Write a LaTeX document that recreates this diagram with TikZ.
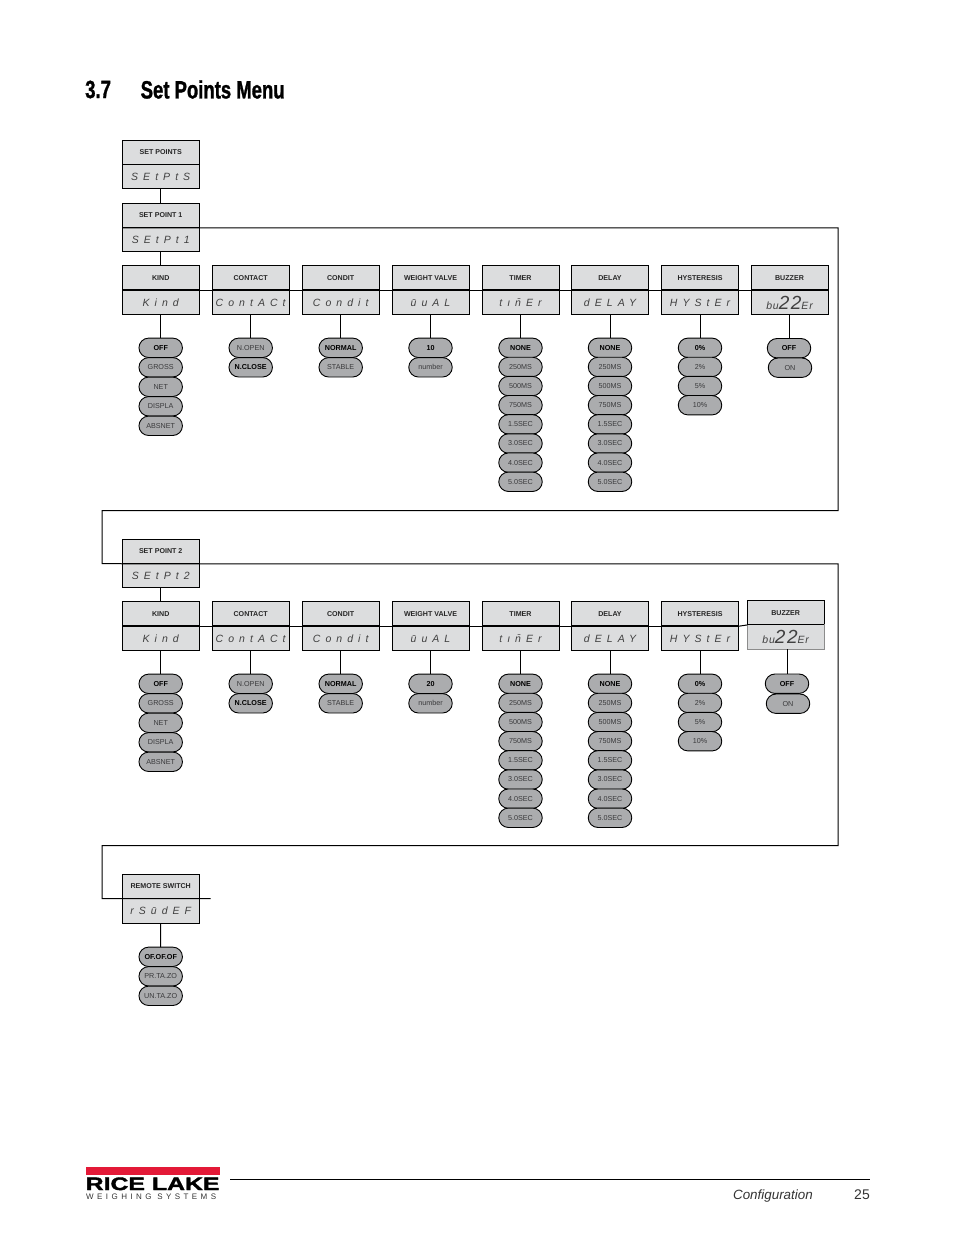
\documentclass[tikz,border=0pt]{standalone}
\usepackage{fontspec}
\setmainfont{Liberation Sans}
\newfontfamily\lcdfont[LetterSpace=48,ItalicFont={Liberation Sans Italic}]{Liberation Sans}
\newfontfamily\headfont[FakeStretch=0.74,FakeBold=1.2]{Liberation Sans Bold}
\newfontfamily\logofont[FakeStretch=1.38,FakeBold=2]{Liberation Sans Bold}
\newfontfamily\subfont[LetterSpace=43]{Liberation Sans}
\usetikzlibrary{shapes.misc}
\definecolor{boxgray}{HTML}{DCDDDE}
\definecolor{pillgray}{HTML}{ABACAE}
\definecolor{txtgray}{HTML}{3A3A3C}
\definecolor{logored}{HTML}{E31937}
\newcommand{\optb}[1]{\textcolor{black}{\textbf{#1}}}
\newcommand{\lcd}[1]{{\lcdfont\itshape #1}}
\newcommand{\lcdbuzz}{{\lcdfont\itshape\addfontfeature{LetterSpace=8}bu{\fontsize{19}{19}\selectfont 22}Er}}
\tikzset{
	menutitle/.style={draw=black, line width=1pt, fill=boxgray, minimum width=77pt, minimum height=24.5pt, inner sep=0pt, outer sep=0pt, font=\fontsize{7.1}{8}\selectfont\bfseries, text=black!85},
	menulcd/.style={draw=black, line width=1pt, fill=boxgray, minimum width=77pt, minimum height=24.5pt, inner sep=0pt, outer sep=0pt, font=\fontsize{10.5}{12}\selectfont, text=black!75},
	optpill/.style={draw=black, line width=0.9pt, fill=pillgray, rounded rectangle, minimum width=43.5pt, minimum height=19.4pt, inner sep=0pt, outer sep=0pt, font=\fontsize{7.2}{8}\selectfont, text=txtgray},
	link/.style={draw=black, line width=1pt},
	divider/.style={draw=black, line width=1.7pt}
}
\begin{document}
\begin{tikzpicture}[x=1pt,y=-1pt, line join=miter]
	\useasboundingbox (0,0) rectangle (954,1235);
	% heading
	\node[anchor=west, inner sep=0pt, font=\fontsize{25}{28}\selectfont\headfont] (secnum) at (85,89.5) {3.7};
	\node[anchor=west, inner sep=0pt, font=\fontsize{25}{28}\selectfont\headfont] (sectitle) at (140.5,89.5) {Set Points Menu};
	% top of the menu
	\node[menutitle] (toptitle) at (160.7,152.5) {SET POINTS};
	\node[menulcd] (toplcd) at (160.7,176.5) {\lcd{SEtPtS}};
	% the two set point blocks
	\foreach \dy/\sp/\num/\wv in {0/a/1/10,336/b/2/20}{
		\node[menutitle] (\sp settitle) at (160.7,215.5+\dy) {SET POINT \num};
		\node[menulcd] (\sp setlcd) at (160.7,239.5+\dy) {\lcd{SEtPt\num}};
		\foreach \xc/\id/\ttl/\txt in {160.7/kind/KIND/Kind,250.7/contact/CONTACT/ContACt,340.7/condit/CONDIT/Condit,430.5/weight/WEIGHT VALVE/ūuAL,520.5/timer/TIMER/t\i\=nEr,610/delay/DELAY/dELAY,700/hyst/HYSTERESIS/HYStEr}{
			\node[menutitle] (\sp\id t) at (\xc,278+\dy) {\ttl};
			\node[menulcd] (\sp\id d) at (\xc,302.5+\dy) {\lcd{\txt}};
			\draw[divider] (\sp\id t.south west) -- (\sp\id t.south east);
		}
		\foreach \a/\b in {kind/contact,contact/condit,condit/weight,weight/timer,timer/delay,delay/hyst}{
			\draw[link] (\sp\a t.south east) -- (\sp\b t.south west);
		}
		\draw[link] (\sp setlcd) -- (\sp kindt);
		\foreach \id/\xc/\gap/\opts in {
			kind/160.7/19.5/{\optb{OFF},GROSS,NET,DISPLA,ABSNET},
			contact/250.7/19.5/{N.OPEN,\optb{N.CLOSE}},
			condit/340.7/19.5/{\optb{NORMAL},STABLE},
			weight/430.5/19.5/{\optb{\wv},number},
			timer/520.5/19.14/{\optb{NONE},250MS,500MS,750MS,1.5SEC,3.0SEC,4.0SEC,5.0SEC},
			delay/610/19.14/{\optb{NONE},250MS,500MS,750MS,1.5SEC,3.0SEC,4.0SEC,5.0SEC},
			hyst/700/19.14/{\optb{0\%},2\%,5\%,10\%}}{
			\foreach \opt [count=\n from 0] in \opts {
				\node[optpill] (\sp\id\n) at (\xc,347.8+\dy+\gap*\n) {\opt};
			}
			\draw[link] (\sp\id d.south) -- (\sp\id0.north);
		}
	}
	\draw[link] (toplcd) -- (asettitle);
	% buzzers are placed by hand
	\node[menutitle] (abuzt) at (789.5,278) {BUZZER};
	\node[menulcd] (abuzd) at (789.5,302.5) {\lcdbuzz};
	\draw[divider] (abuzt.south west) -- (abuzt.south east);
	\draw[link] (ahystt.south east) -- (abuzt.south west);
	\node[optpill] (abuz0) at (789,348.2) {\optb{OFF}};
	\node[optpill] (abuz1) at (790,367.7) {ON};
	\draw[link] (abuzd.south-|abuz0) -- (abuz0.north);
	\node[menutitle] (bbuzt) at (785.7,612.7) {BUZZER};
	\node[menulcd, draw=black!45] (bbuzd) at (785.7,637.2) {\lcdbuzz};
	\draw[divider, line width=1pt] (bbuzt.south west) -- (bbuzt.south east);
	\draw[link] (bhystt.south east) -- (bbuzt.south west);
	\node[optpill] (bbuz0) at (787,683.7) {\optb{OFF}};
	\node[optpill] (bbuz1) at (788,703.7) {ON};
	\draw[link] (bbuzd.south-|bbuz0) -- (bbuz0.north);
	% remote switch
	\node[menutitle] (remt) at (160.7,886.5) {REMOTE SWITCH};
	\node[menulcd] (remd) at (160.7,911) {\lcd{rSūdEF}};
	\foreach \opt [count=\n from 0] in {\optb{OF.OF.OF},PR.TA.ZO,UN.TA.ZO}{
		\node[optpill] (rem\n) at (160.7,956.8+19.5*\n) {\opt};
	}
	\draw[link] (remd) -- (rem0);
	% the lines running from block to block
	\coordinate (loopa) at (838,510.5);
	\coordinate (loopb) at (102,563.5);
	\coordinate (loopc) at (838,845.5);
	\coordinate (loopd) at (102,898.5);
	\coordinate (remend) at (210.5,898.5);
	\draw[link] (asettitle.south west) -- (asettitle.south east) -| (loopa) -| (loopb) -- (bsettitle.south west) -- (bsettitle.south east) -| (loopc) -| (loopd) -- (remend);
	% footer
	\draw[line width=1.2pt] (230,1179.5) coordinate (footl) -- (870,1179.5) coordinate (footr);
	\node[anchor=base east, inner sep=0pt, font=\fontsize{13.4}{16}\selectfont\itshape, text=black!80] (chapter) at (813,1199) {Configuration};
	\node[anchor=base east, inner sep=0pt, font=\fontsize{14}{16}\selectfont, text=black!80] (pagenum) at (870,1199) {25};
	\fill[logored] (86,1167) rectangle (220,1175);
	\node[anchor=base west, inner sep=0pt, font=\fontsize{18}{20}\selectfont\logofont] (logotext) at (85.5,1190) {RICE LAKE};
	\node[anchor=base west, inner sep=0pt, font=\fontsize{8}{9}\selectfont\subfont, text=black!80] (logosub) at (86,1199) {WEIGHING SYSTEMS};
\end{tikzpicture}
\end{document}
